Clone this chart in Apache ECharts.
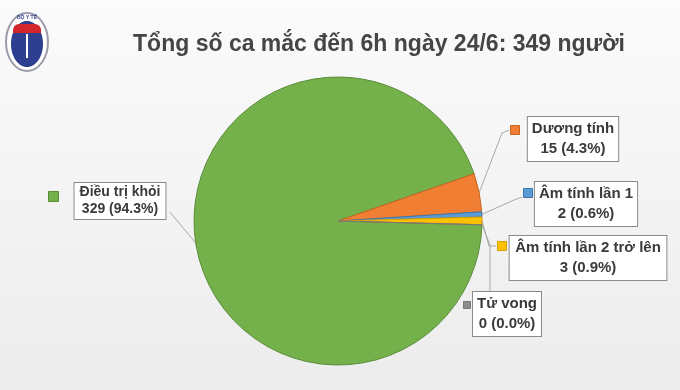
<!DOCTYPE html>
<html><head><meta charset="utf-8">
<script src="https://cdn.jsdelivr.net/npm/echarts@6/dist/echarts.min.js"></script>
<style>html,body{margin:0;padding:0;}#c{width:680px;height:390px;}</style>
</head><body><div id="c"></div>
<script>
const titleText = 'Tổng số ca mắc đến 6h ngày 24/6: 349 người';
const categories = ['Điều trị khỏi', 'Dương tính', 'Âm tính lần 1', 'Âm tính lần 2 trở lên', 'Tử vong'];
const values = [329, 15, 2, 3, 0];

const colors = ['#74b14b', '#f07f33', '#5b9bd5', '#ffc000', '#8c8c8c'];
const borders = ['#5a8c38', '#c8641f', '#3d78b0', '#d6a000', '#777777'];
const labelCenters = [[120, 201], [573, 139], [586, 204], [588, 258], [507, 314]];
const markerPos = [[48, 191, 10], [510, 125, 9], [523, 188, 9], [497, 241, 9], [463, 301, 7]];
const total = values.reduce((a, b) => a + b, 0);
const FONT = "'Liberation Sans', Arial, sans-serif";

const chart = echarts.init(document.getElementById('c'));
const data = categories.map((n, i) => ({
  name: n, value: values[i],
  itemStyle: { color: colors[i], borderColor: borders[i], borderWidth: 1 },
  label: i === 0 ? { fontSize: 14, lineHeight: 17, padding: [1, 5] } : {}
}));
const legends = categories.map((n, i) => ({
  data: [n], left: markerPos[i][0], top: markerPos[i][1], padding: 0, itemGap: 0,
  itemWidth: markerPos[i][2], itemHeight: markerPos[i][2], icon: 'rect', selectedMode: false,
  formatter: () => '', textStyle: { fontSize: 1 },
  itemStyle: { borderColor: borders[i], borderWidth: 1 }
}));
chart.setOption({
  backgroundColor: new echarts.graphic.LinearGradient(0, 0, 0, 1, [
    { offset: 0, color: '#fbfbfb' }, { offset: 1, color: '#ececec' }]),
  animation: false,
  title: {
    text: titleText, left: 374, textAlign: 'center', top: 28,
    textStyle: { fontFamily: FONT, fontWeight: 'bold', fontSize: 23, color: '#454545' }
  },
  legend: legends,
  graphic: [
    { type: 'ellipse', shape: { cx: 27, cy: 42, rx: 21, ry: 29 }, style: { fill: '#ffffff', stroke: '#9a9aa8', lineWidth: 2 } },
    { type: 'ellipse', shape: { cx: 27, cy: 44, rx: 16, ry: 23 }, style: { fill: '#2e3f8f' } },
    { type: 'rect', shape: { x: 13, y: 24, width: 28, height: 9, r: [6, 6, 0, 0] }, style: { fill: '#d3262c' } },
    { type: 'text', style: { x: 27, y: 15, text: 'BỘ Y TẾ', fontSize: 5, fill: '#2e3f8f', align: 'center', fontWeight: 'bold' } },
    { type: 'rect', shape: { x: 26, y: 34, width: 2, height: 24 }, style: { fill: '#ffffff' } }
  ],
  series: [{
    type: 'pie',
    center: [338, 221], radius: 144,
    startAngle: -1.5, clockwise: true,
    selectedMode: false,
    data: data,
    emphasis: { disabled: true },
    label: {
      show: true, position: 'outside', overflow: 'none',
      fontFamily: FONT, fontWeight: 'bold', fontSize: 15, lineHeight: 20, color: '#3a3a3a',
      backgroundColor: '#ffffff', borderColor: '#8a8a8a', borderWidth: 1, padding: [2, 4],
      align: 'center',
      formatter: p => p.name + '\n' + p.value + ' (' + (p.value / total * 100).toFixed(1) + '%)'
    },
    labelLine: { show: true, lineStyle: { color: '#a8a8a8', width: 1 } },
    labelLayout: function (params) {
      const i = params.dataIndex;
      const p0 = params.labelLinePoints ? params.labelLinePoints[0].slice() : null;
      let pts;
      if (p0) {
        if (i === 0) pts = [p0, [(p0[0] + 170) / 2, (p0[1] + 212) / 2], [170, 212]];
        else if (i === 1) pts = [p0, [502, 133], [509, 130]];
        else if (i === 2) pts = [p0, [514, 200], [522, 197]];
        else if (i === 3) pts = [p0, [489, 246], [496, 246]];
        else pts = [p0, [490, p0[1] + 20], [490, 293]];
      }
      return { x: labelCenters[i][0], y: labelCenters[i][1], align: 'center', verticalAlign: 'middle', labelLinePoints: pts };
    }
  }]
});
</script>
</body></html>
